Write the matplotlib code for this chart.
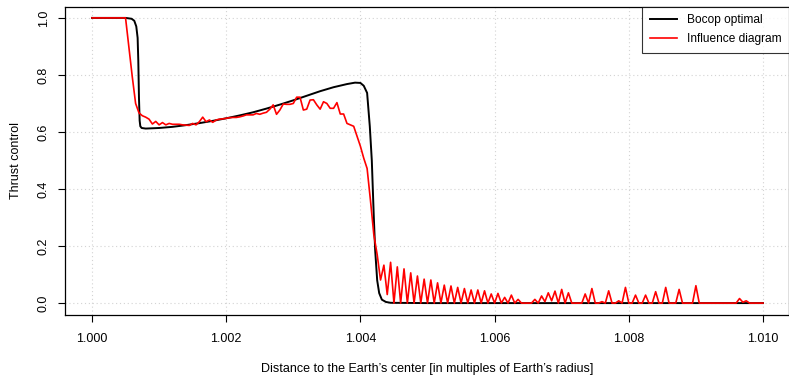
import numpy as np
import matplotlib
matplotlib.use("Agg")
import matplotlib.pyplot as plt

plt.rcParams['font.family'] = ['Liberation Sans', 'DejaVu Sans']

# Bocop optimal control (distance, thrust)
bocop_x = [1.00000, 1.00050, 1.00059, 1.00063, 1.00066, 1.00068, 1.00069, 1.00070,
           1.00071, 1.00072, 1.00074, 1.00080, 1.00100, 1.00120, 1.00140, 1.00160,
           1.00180, 1.00200, 1.00220, 1.00240, 1.00260, 1.00280, 1.00300, 1.00320,
           1.00340, 1.00360, 1.00380, 1.00392, 1.00400, 1.00405, 1.00410, 1.00414,
           1.00417, 1.00420, 1.00422, 1.00425, 1.00428, 1.00432, 1.00438, 1.00445,
           1.00500, 1.00600, 1.00800, 1.01000]
bocop_u = [1.000, 1.000, 0.997, 0.990, 0.970, 0.930, 0.850, 0.720,
           0.640, 0.620, 0.614, 0.612, 0.614, 0.618, 0.624, 0.631,
           0.639, 0.648, 0.658, 0.669, 0.682, 0.696, 0.711, 0.727,
           0.743, 0.757, 0.768, 0.773, 0.772, 0.762, 0.737, 0.620,
           0.500, 0.300, 0.186, 0.080, 0.035, 0.012, 0.004, 0.001,
           0.000, 0.000, 0.000, 0.000]

# Influence diagram control, sampled every 0.00005 from 1.000 to 1.010
influence_x0 = 1.0
influence_dx = 0.00005
influence_u = [
    1.000, 1.000, 1.000, 1.000, 1.000, 1.000, 1.000, 1.000, 1.000, 1.000,  # 0-9
    1.000, 0.897, 0.794, 0.700, 0.667, 0.657, 0.652, 0.645, 0.628, 0.637,  # 10-19
    0.625, 0.633, 0.625, 0.630, 0.627, 0.627, 0.627, 0.625, 0.624, 0.623,  # 20-29
    0.630, 0.625, 0.636, 0.652, 0.636, 0.642, 0.634, 0.642, 0.645, 0.646,  # 30-39
    0.648, 0.650, 0.651, 0.651, 0.653, 0.656, 0.660, 0.660, 0.660, 0.665,  # 40-49
    0.662, 0.666, 0.669, 0.680, 0.695, 0.662, 0.677, 0.698, 0.697, 0.697,  # 50-59
    0.700, 0.722, 0.722, 0.677, 0.680, 0.712, 0.713, 0.695, 0.680, 0.706,  # 60-69
    0.700, 0.683, 0.683, 0.703, 0.663, 0.663, 0.630, 0.625, 0.620, 0.585,  # 70-79
    0.550, 0.508, 0.472, 0.360, 0.240, 0.170, 0.081, 0.133, 0.030, 0.143,  # 80-89
    0.000, 0.127, 0.000, 0.120, 0.000, 0.106, 0.000, 0.095, 0.000, 0.084,  # 90-99
    0.000, 0.081, 0.000, 0.071, 0.000, 0.063, 0.000, 0.060, 0.000, 0.055,  # 100-109
    0.000, 0.051, 0.000, 0.046, 0.000, 0.046, 0.000, 0.043, 0.000, 0.032,  # 110-119
    0.000, 0.034, 0.000, 0.020, 0.000, 0.028, 0.000, 0.013, 0.000, 0.000,  # 120-129
    0.000, 0.000, 0.013, 0.000, 0.025, 0.005, 0.036, 0.008, 0.042, 0.000,  # 130-139
    0.048, 0.000, 0.036, 0.000, 0.000, 0.000, 0.000, 0.032, 0.000, 0.051,  # 140-149
    0.000, 0.000, 0.005, 0.000, 0.043, 0.000, 0.000, 0.008, 0.000, 0.055,  # 150-159
    0.000, 0.000, 0.028, 0.000, 0.000, 0.028, 0.000, 0.000, 0.040, 0.000,  # 160-169
    0.000, 0.055, 0.000, 0.000, 0.000, 0.048, 0.000, 0.000, 0.000, 0.000,  # 170-179
    0.061, 0.000, 0.000, 0.000, 0.000, 0.000, 0.000, 0.000, 0.000, 0.000,  # 180-189
    0.000, 0.000, 0.000, 0.016, 0.003, 0.008, 0.000, 0.000, 0.000, 0.000,  # 190-199
    0.000]                                                                  # 200
influence_x = [influence_x0 + i * influence_dx for i in range(len(influence_u))]

x_ticks = [1.000, 1.002, 1.004, 1.006, 1.008, 1.010]
x_ticklabels = ["1.000", "1.002", "1.004", "1.006", "1.008", "1.010"]
y_ticks = [0.0, 0.2, 0.4, 0.6, 0.8, 1.0]
y_ticklabels = ["0.0", "0.2", "0.4", "0.6", "0.8", "1.0"]

W, H = 789, 375
fig = plt.figure(figsize=(W / 100, H / 100), dpi=100)
ax = fig.add_axes([65 / W, 1 - 314.5 / H, 1 - 65 / W, 308 / H])

ax.set_xlim(1.0 - 27 / 67100, 1.0 + (789 - 92) / 67100)
ax.set_ylim(-0.04, 1.04)

for t in x_ticks:
    ax.axvline(t, color='#d3d3d3', linestyle=(0, (1, 2.5)), linewidth=0.8, zorder=0)
for t in y_ticks:
    ax.axhline(t, color='#d3d3d3', linestyle=(0, (1, 2.5)), linewidth=0.8, zorder=0)

ax.plot(bocop_x, bocop_u, color='black', linewidth=1.4, label='Bocop optimal', zorder=2)
ax.plot(influence_x, influence_u, color='red', linewidth=1.2, label='Influence diagram', zorder=3)

ax.set_xticks(x_ticks)
ax.set_xticklabels(x_ticklabels)
ax.set_yticks(y_ticks)
ax.set_yticklabels(y_ticklabels, rotation=90, va='center')
ax.tick_params(axis='both', direction='out', length=5, width=0.8, labelsize=9,
               colors='black')
ax.tick_params(axis='x', pad=8)
ax.tick_params(axis='y', pad=6)
for s in ax.spines.values():
    s.set_linewidth(0.9)
    s.set_color('black')

ax.set_xlabel("Distance to the Earth’s center [in multiples of Earth’s radius]",
              fontsize=9, labelpad=13)
ax.set_ylabel("Thrust control", fontsize=9, labelpad=11)

leg = ax.legend(loc='upper right', fontsize=8.6, frameon=True, fancybox=False,
                borderaxespad=0, handlelength=2.3, handletextpad=0.8,
                borderpad=0.65, labelspacing=0.55)
leg.get_frame().set_edgecolor('black')
leg.get_frame().set_linewidth(0.8)

fig.savefig('out.png', dpi=100, facecolor='white')
